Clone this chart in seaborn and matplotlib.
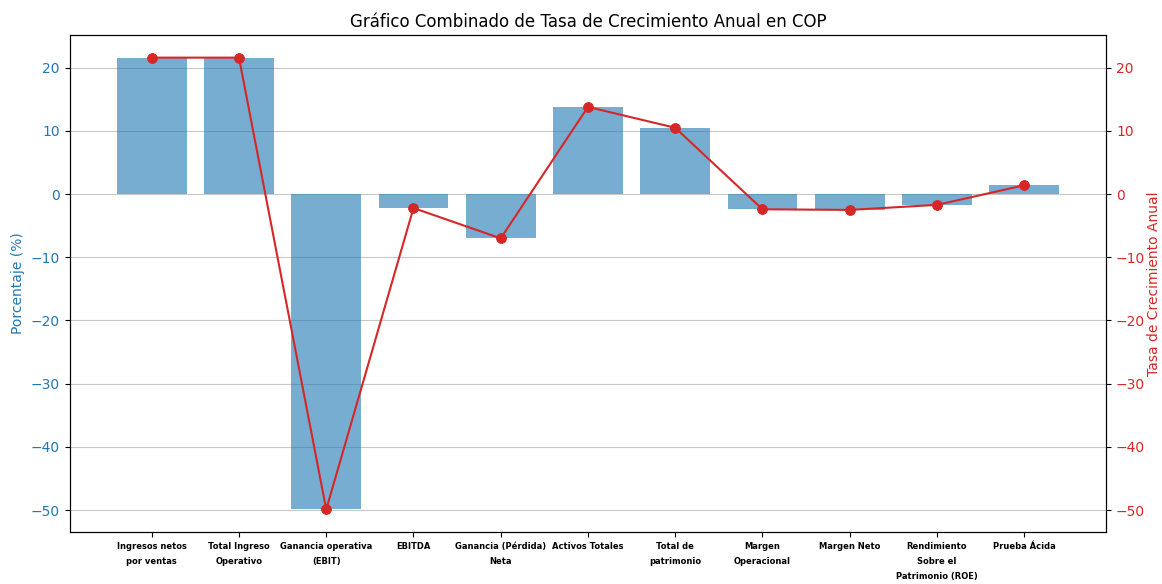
import matplotlib
matplotlib.use("Agg")
import matplotlib.pyplot as plt
import numpy as np
import seaborn as sns

categorias = [
    "Ingresos netos\npor ventas",
    "Total Ingreso\nOperativo",
    "Ganancia operativa\n(EBIT)",
    "EBITDA",
    "Ganancia (Pérdida)\nNeta",
    "Activos Totales",
    "Total de\npatrimonio",
    "Margen\nOperacional",
    "Margen Neto",
    "Rendimiento\nSobre el\nPatrimonio (ROE)",
    "Prueba Ácida",
]
porcentaje = [21.6, 21.6, -49.9, -2.2, -7.0, 13.8, 10.5, -2.4, -2.5, -1.7, 1.4]
tasa_crecimiento = [21.6, 21.6, -49.9, -2.2, -7.0, 13.8, 10.5, -2.4, -2.5, -1.7, 1.4]

fig, ax1 = plt.subplots(figsize=(11.62, 5.84), dpi=100)
fig.subplots_adjust(left=0.06, right=0.952, top=0.94, bottom=0.089)

# barras en el eje izquierdo
sns.barplot(x=categorias, y=porcentaje, color='#1f77b4', alpha=0.6,
            saturation=1, width=0.8, ax=ax1, zorder=2)
ax1.set_ylabel('Porcentaje (%)', color='#1f77b4')
ax1.tick_params(axis='y', labelcolor='#1f77b4')
ax1.set_xlabel('')
ax1.grid(True, axis='y', color='#c8c8c8', zorder=0)
ax1.set_axisbelow(True)
ax1.set_xlim(-0.94, len(categorias) - 0.06)
for lbl in ax1.get_xticklabels():
    lbl.set_fontsize(6)
    lbl.set_fontweight('bold')
    lbl.set_linespacing(1.9)

# linea en el eje derecho
ax2 = ax1.twinx()
sns.lineplot(x=np.arange(len(categorias)), y=tasa_crecimiento, color='tab:red',
             marker='o', markersize=7, markeredgecolor='tab:red', ax=ax2)
ax2.set_ylabel('Tasa de Crecimiento Anual', color='tab:red', labelpad=1)
ax2.tick_params(axis='y', labelcolor='tab:red')
ax2.set_ylim(ax1.get_ylim())

plt.title('Gráfico Combinado de Tasa de Crecimiento Anual en COP')
plt.savefig('out.png')
